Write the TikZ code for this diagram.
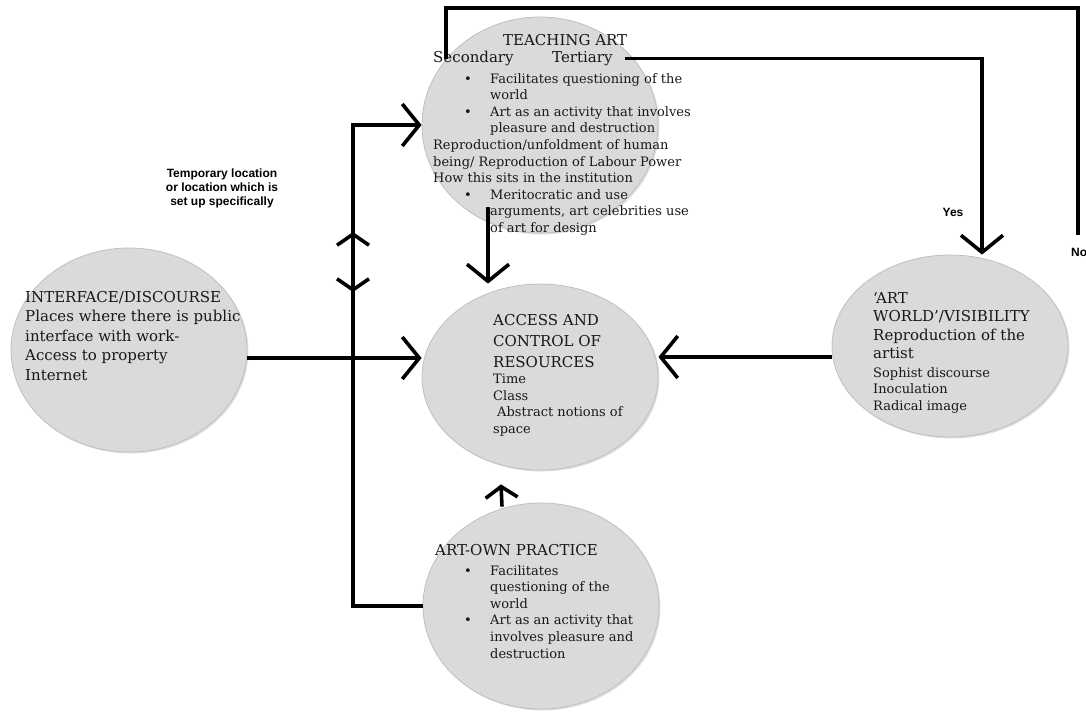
\documentclass[tikz,border=0pt]{standalone}
\usepackage{fontspec}
\setmainfont{DejaVu Serif}
\setsansfont{Liberation Sans}
\usetikzlibrary{shapes.geometric, arrows.meta, shadows}

\definecolor{bubblefill}{RGB}{218,218,218}
\definecolor{bubbleedge}{RGB}{192,192,192}
\definecolor{ink}{RGB}{24,24,24}

\newcommand{\bul}[1]{\hspace*{#1}\makebox[26pt][l]{\textbullet}}

\tikzset{
  bubble/.style={ellipse, fill=bubblefill, draw=bubbleedge, line width=0.8pt, inner sep=0pt, minimum width=236pt,
    drop shadow={shadow xshift=1.5pt, shadow yshift=-1.5pt, opacity=0.25}},
  flow/.style={line width=3.6pt, -{Straight Barb[length=17pt, width=42pt]}},
  tick/.style={line width=3.6pt, -{Straight Barb[length=11pt, width=32pt]}},
  link/.style={line width=3.6pt},
  big/.style={font=\fontsize{15}{19.5}\selectfont, text=ink, align=left, inner sep=0pt, anchor=north west},
  small/.style={font=\fontsize{13}{16.6}\selectfont, text=ink, align=left, inner sep=0pt, anchor=north west},
  note/.style={font=\sffamily\bfseries\fontsize{12}{14}\selectfont, align=center, inner sep=0pt}
}

\begin{document}
\begin{tikzpicture}[x=1pt, y=-1pt]

\useasboundingbox (0, 0) rectangle (1086, 713);

%Bubbles
\node[bubble, minimum height=216pt] (teach) at (540, 125) {};
\node[bubble, minimum height=204pt] (iface) at (129, 350) {};
\node[bubble, minimum height=186pt] (access) at (540, 377) {};
\node[bubble, minimum height=182pt] (artworld) at (950, 346) {};
\node[bubble, minimum height=206pt] (own) at (541, 606) {};

%Texts
\node[big] (teachhead) at (503, 34) {TEACHING ART};
\node[big] (teachsub) at (433, 51) {\makebox[119pt][l]{Secondary}Tertiary};
\node[small] (teachbody) at (433, 73) {\bul{31pt}Facilitates questioning of the\\
  \hspace*{57pt}world\\
  \bul{31pt}Art as an activity that involves\\
  \hspace*{57pt}pleasure and destruction\\
  Reproduction/unfoldment of human\\
  being/ Reproduction of Labour Power\\
  How this sits in the institution\\
  \bul{31pt}Meritocratic and use\\
  \hspace*{57pt}arguments, art celebrities use\\
  \hspace*{57pt}of art for design};

\node[big] (ifacetext) at (25, 291) {INTERFACE/DISCOURSE\\Places where there is public\\interface with work-\\Access to property\\Internet};

\node[big, font=\fontsize{15}{21}\selectfont] (accesshead) at (493, 314) {ACCESS AND\\CONTROL OF\\RESOURCES};
\node[small] (accessbody) at (493, 374) {Time\\Class\\\hspace*{4pt}Abstract notions of\\space};

\node[big, font=\fontsize{15}{18.5}\selectfont] (worldhead) at (873, 292) {`ART\\WORLD'/VISIBILITY\\Reproduction of the\\artist};
\node[small] (worldbody) at (873, 367) {Sophist discourse\\Inoculation\\Radical image};

\node[big] (ownhead) at (435, 544) {ART-OWN PRACTICE};
\node[small] (ownbody) at (464, 565) {\bul{0pt}Facilitates\\
  \hspace*{26pt}questioning of the\\
  \hspace*{26pt}world\\
  \bul{0pt}Art as an activity that\\
  \hspace*{26pt}involves pleasure and\\
  \hspace*{26pt}destruction};

\node[note] (templabel) at (222, 188) {Temporary location\\or location which is\\set up specifically};
\node[note] (yeslabel) at (953, 212) {Yes};
\node[note, anchor=west] (nolabel) at (1071, 252) {No};

%Connectors
\coordinate (rail) at (353, 0);
\coordinate (yesbend) at (982, 0);
\coordinate (notop) at (1078, 8);
\coordinate (noend) at (1078, 235);
\coordinate (upmark) at (353, 232);
\coordinate (downmark) at (353, 292);

\draw[link] (teach.145) |- (notop) -- (noend);
\draw[flow] ([xshift=12pt]teachsub.east) -| (yesbend |- artworld.north);
\draw[flow] (own.west) -- (own.west -| rail) |- (teach.west);
\draw[tick] ([yshift=-24pt]upmark) -- (upmark);
\draw[tick] ([yshift=24pt]downmark) -- (downmark);
\draw[flow] ([yshift=-8pt]iface.east) -- ([yshift=-8pt]iface.east -| access.west);
\draw[flow] ([yshift=-11pt]artworld.west) -- ([yshift=-11pt]artworld.west -| access.east);
\draw[flow] ([xshift=-52pt, yshift=26pt]teach.south) -- ([xshift=-52pt]access.north);
\draw[tick] ([xshift=-39pt, yshift=-4pt]own.north) -- ([xshift=-39pt, yshift=-14pt]access.south);

\end{tikzpicture}
\end{document}
